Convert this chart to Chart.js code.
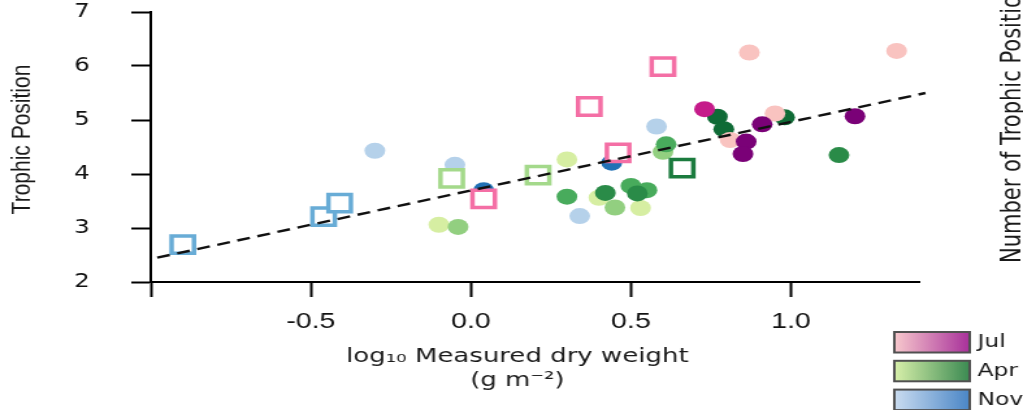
<!DOCTYPE html>
<html>
<head>
<meta charset="utf-8">
<script src="https://cdn.jsdelivr.net/npm/chart.js@4.4.1/dist/chart.umd.min.js"></script>
<style>
  html, body { margin: 0; padding: 0; background: #fff; }
  canvas { display: block; }
</style>
</head>
<body>
<!-- drawn at 787 px wide and widened to 1023 px on screen -->
<canvas id="plot" width="787" height="410" style="width:1023px;height:410px"></canvas>
<script>
// log10 dry weight (x) against trophic position (y), by month and taxon group
const julPaleX = [0.87, 1.33, 0.81, 0.95];
const julPaleY = [6.25, 6.28, 4.63, 5.12];
const julMagentaX = [0.73];
const julMagentaY = [5.20];
const julPurpleX = [0.86, 0.85, 0.91, 1.20];
const julPurpleY = [4.60, 4.37, 4.92, 5.07];
const julMeanX = [0.04, 0.37, 0.46, 0.60];
const julMeanY = [3.54, 5.25, 4.39, 5.99];

const aprPaleX = [-0.10, 0.30, 0.40, 0.53];
const aprPaleY = [3.06, 4.27, 3.56, 3.37];
const aprLightX = [-0.04, 0.45, 0.60];
const aprLightY = [3.02, 3.38, 4.41];
const aprMidX = [0.30, 0.50, 0.55, 0.61];
const aprMidY = [3.58, 3.78, 3.70, 4.55];
const aprDarkX = [0.42, 0.52, 1.15];
const aprDarkY = [3.65, 3.64, 4.35];
const aprDeepX = [0.77, 0.79, 0.98];
const aprDeepY = [5.06, 4.83, 5.05];
const aprMeanLightX = [-0.06, 0.21];
const aprMeanLightY = [3.92, 3.98];
const aprMeanDarkX = [0.66];
const aprMeanDarkY = [4.11];

const novPaleX = [-0.30, -0.05, 0.34, 0.58];
const novPaleY = [4.43, 4.17, 3.22, 4.88];
const novDarkX = [0.04, 0.44];
const novDarkY = [3.70, 4.21];
const novMeanX = [-0.90, -0.46, -0.41];
const novMeanY = [2.69, 3.21, 3.46];

// fitted line end points
const trendX = [-0.98, 1.42];
const trendY = [2.45, 5.50];

const xTicks = [-1, -0.5, 0, 0.5, 1];
const yTitle = "Trophic Position";
const xTitle = ["log\u2081\u2080 Measured dry weight", "(g m\u207B\u00B2)"];
const sideTitle = "Number of Trophic Position";
const seasons = ["Jul", "Apr", "Nov"];
const seasonFrom = ["#f8c9cd", "#d8f0aa", "#cadcf0"];
const seasonTo = ["#a8309a", "#3b8a52", "#4a86c6"];

const pairs = (xs, ys) => xs.map((x, i) => ({ x, y: ys[i] }));

function dots(xs, ys, color) {
    return {
        data: pairs(xs, ys),
        backgroundColor: color,
        borderWidth: 0,
        pointRadius: 8,
        pointHoverRadius: 8
    };
}

function boxes(xs, ys, color) {
    return {
        data: pairs(xs, ys),
        pointStyle: "rect",
        backgroundColor: "#fff",
        borderColor: color,
        borderWidth: 3.5,
        pointRadius: 12.2,
        pointHoverRadius: 12.2
    };
}

// first dataset ends up on top
const datasets = [
    {
        type: "line",
        data: pairs(trendX, trendY),
        borderColor: "#111",
        borderWidth: 2.4,
        borderDash: [10, 6],
        pointRadius: 0,
        fill: false,
        clip: false
    },
    boxes(julMeanX, julMeanY, "#f46fa5"),
    boxes(aprMeanLightX, aprMeanLightY, "#a4d98b"),
    boxes(aprMeanDarkX, aprMeanDarkY, "#1b7b3e"),
    boxes(novMeanX, novMeanY, "#68acd6"),
    dots(julPurpleX, julPurpleY, "#7a0177"),
    dots(julMagentaX, julMagentaY, "#c51b8a"),
    dots(julPaleX, julPaleY, "#f9c3c0"),
    dots(aprDeepX, aprDeepY, "#0f6b36"),
    dots(aprDarkX, aprDarkY, "#2a8b48"),
    dots(aprMidX, aprMidY, "#48ab5c"),
    dots(aprLightX, aprLightY, "#92cf80"),
    dots(aprPaleX, aprPaleY, "#d6eea2"),
    dots(novDarkX, novDarkY, "#2171b5"),
    dots(novPaleX, novPaleY, "#b5d1ea")
];

const frameText = {
    id: "frameText",
    afterDraw(chart) {
        const ctx = chart.ctx;
        ctx.save();
        ctx.fillStyle = "#1a1a1a";

        ctx.save();
        ctx.translate(17, 139.5);
        ctx.rotate(-Math.PI / 2);
        ctx.textAlign = "center";
        ctx.textBaseline = "middle";
        ctx.font = '21px "Liberation Sans"';
        ctx.fillText(yTitle, 0, 0);
        ctx.restore();

        ctx.textAlign = "center";
        ctx.textBaseline = "middle";
        ctx.font = '20px "DejaVu Sans"';
        xTitle.forEach((line, i) => ctx.fillText(line, 398, 357 + i * 24));

        // neighbouring panel's axis name, runs off the edge
        ctx.save();
        ctx.translate(785, 263);
        ctx.rotate(-Math.PI / 2);
        ctx.textAlign = "left";
        ctx.textBaseline = "alphabetic";
        ctx.font = '21px "DejaVu Sans"';
        ctx.fillText(sideTitle, 0, 0);
        ctx.restore();

        // month key with gradient swatches
        seasons.forEach((name, i) => {
            const top = 332 + i * 28.8;
            const grad = ctx.createLinearGradient(688, 0, 746, 0);
            grad.addColorStop(0, seasonFrom[i]);
            grad.addColorStop(1, seasonTo[i]);
            ctx.fillStyle = grad;
            ctx.fillRect(688, top, 58, 20.5);
            ctx.strokeStyle = "#505050";
            ctx.lineWidth = 2;
            ctx.strokeRect(688, top, 58, 20.5);
            ctx.fillStyle = "#1a1a1a";
            ctx.textAlign = "left";
            ctx.textBaseline = "middle";
            ctx.font = '18px "DejaVu Sans"';
            ctx.fillText(name, 752, top + 10.5);
        });
        ctx.restore();
    }
};

// keep the tick label gap from pushing the plot area inwards
const noEdgePadding = axis => {
    axis.paddingTop = 0;
    axis.paddingBottom = 0;
    axis.paddingLeft = 0;
    axis.paddingRight = 0;
};

new Chart(document.getElementById("plot"), {
    type: "scatter",
    data: { datasets },
    options: {
        responsive: false,
        animation: false,
        devicePixelRatio: 1,
        layout: { autoPadding: false, padding: { top: 12, right: 80, left: 0, bottom: 0 } },
        plugins: {
            legend: { display: false },
            tooltip: { enabled: false }
        },
        scales: {
            x: {
                type: "linear",
                min: -1,
                max: 1.4,
                afterBuildTicks: axis => { axis.ticks = xTicks.map(value => ({ value })); },
                afterFit: axis => { axis.height = 128; noEdgePadding(axis); },
                grid: { drawOnChartArea: false, tickLength: 15, tickWidth: 2, tickColor: "#000" },
                border: { color: "#000", width: 2 },
                ticks: {
                    padding: 12,
                    color: "#111",
                    maxRotation: 0,
                    autoSkip: false,
                    font: { family: "Liberation Sans", size: 22 },
                    callback: v => (v === -1 ? "" : v.toFixed(1))
                }
            },
            y: {
                type: "linear",
                min: 2,
                max: 7,
                afterFit: axis => { axis.width = 116; noEdgePadding(axis); },
                grid: { drawOnChartArea: false, tickLength: 15, tickWidth: 2, tickColor: "#000" },
                border: { color: "#000", width: 2 },
                ticks: {
                    stepSize: 1,
                    padding: 32,
                    color: "#111",
                    font: { family: "DejaVu Sans", size: 19 }
                }
            }
        }
    },
    plugins: [frameText]
});
</script>
</body>
</html>
